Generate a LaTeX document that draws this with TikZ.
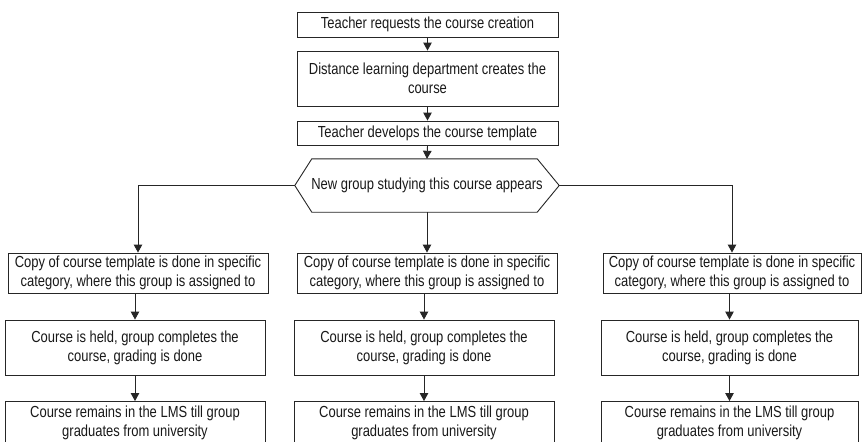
\documentclass[tikz,border=0pt]{standalone}
\usepackage{fontspec}
\setmainfont{Liberation Sans}[FakeStretch=0.81]
\usetikzlibrary{arrows.meta,calc}
\begin{document}
\begin{tikzpicture}[x=1pt,y=-1pt,
  lnc/.style={draw=black!85,line width=0.9pt},
  boxnode/.style={lnc,rectangle,inner sep=0pt,align=center,text=black!90,
     font=\fontsize{16}{19}\selectfont},
  arr/.style={lnc,-{Triangle[width=8.5pt,length=8pt]}}
]
\clip (0,0) rectangle (863,442);
\useasboundingbox (0,0) rectangle (863,442);
\fill[white] (0,0) rectangle (863,442);

% top chain
\node[boxnode,minimum width=261,minimum height=25] (t1) at (427.5,24.5) {Teacher requests the course creation};
\node[boxnode,minimum width=261,minimum height=55] (t2) at (427.5,78.5) {Distance learning department creates the\\course};
\node[boxnode,minimum width=261,minimum height=24] (t3) at (427.5,133) {Teacher develops the course template};

% hexagon
\node[rectangle,inner sep=0pt,minimum width=264,minimum height=53,align=center,
      text=black!90,font=\fontsize{16}{19}\selectfont] (h) at (427,185.5) {New group studying this course appears};
\draw[lnc] ($(h.north west)+(17,0)$) -- ($(h.north east)+(-22,0)$) -- (h.east)
  -- ($(h.south east)+(-22,0)$) -- ($(h.south west)+(17,0)$) -- (h.west) -- cycle;

% left column
\node[boxnode,minimum width=260,minimum height=40] (a1) at (138,273) {Copy of course template is done in specific\\category, where this group is assigned to};
\node[boxnode,minimum width=260,minimum height=55] (a2) at (135,347.5) {Course is held, group completes the\\course, grading is done};
\node[boxnode,minimum width=260,minimum height=43] (a3) at (135,423) {Course remains in the LMS till group\\graduates from university};

% middle column
\node[boxnode,minimum width=260,minimum height=40] (b1) at (427,273) {Copy of course template is done in specific\\category, where this group is assigned to};
\node[boxnode,minimum width=260,minimum height=55] (b2) at (424,347.5) {Course is held, group completes the\\course, grading is done};
\node[boxnode,minimum width=260,minimum height=43] (b3) at (424,423) {Course remains in the LMS till group\\graduates from university};

% right column
\node[boxnode,minimum width=258,minimum height=40] (c1) at (732,273) {Copy of course template is done in specific\\category, where this group is assigned to};
\node[boxnode,minimum width=257,minimum height=55] (c2) at (729.5,347.5) {Course is held, group completes the\\course, grading is done};
\node[boxnode,minimum width=257,minimum height=43] (c3) at (729.5,423) {Course remains in the LMS till group\\graduates from university};

% connectors
\draw[arr] (t1) -- (t2);
\draw[arr] (t2) -- (t3);
\draw[arr] (t3.south) -- (h.north);
\draw[arr] (h.west) -| (a1.north);
\draw[arr] (h.east) -| (c1.north);
\draw[arr] (h.south) -- (b1.north);
\draw[arr] (a2.north |- a1.south) -- (a2.north);
\draw[arr] (a2) -- (a3);
\draw[arr] (b2.north |- b1.south) -- (b2.north);
\draw[arr] (b2) -- (b3);
\draw[arr] (c2.north |- c1.south) -- (c2.north);
\draw[arr] (c2) -- (c3);
\end{tikzpicture}
\end{document}
